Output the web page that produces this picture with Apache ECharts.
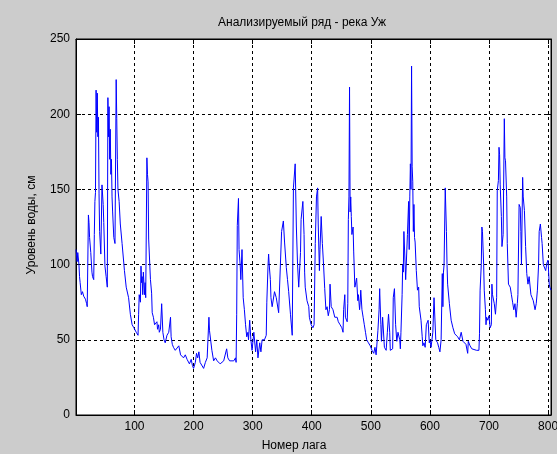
<!DOCTYPE html>
<html>
<head>
<meta charset="utf-8">
<script src="https://cdn.jsdelivr.net/npm/echarts@6/dist/echarts.min.js"></script>
<style>
html,body{margin:0;padding:0;background:#cccccc;}
#c{width:557px;height:454px;}
</style>
</head>
<body>
<div id="c"></div>
<script>
const titleText = 'Анализируемый ряд - река Уж';
const xName = 'Номер лага';
const yName = 'Уровень воды, см';
const yTicks = [0, 50, 100, 150, 200, 250];
const xTicks = [100, 200, 300, 400, 500, 600, 700, 800];

const lags = [
1,3,4,6,7,8,10,12,14,17,19,20,22,23,24,26,28,29,31,32,33,34,35,36,37,38,39,40,41,43,45,47,48,50,52,54,55,56,57,58,59,60,61,62,63,65,67,69,70,71,72,74,76,79,83,86,90,93,96,99,103,106,107,108,110,111,112,113,114,115,117,118,119,121,122,123,124,126,127,129,130,132,134,136,138,139,141,142,144,146,148,150,152,155,158,161,162,164,166,169,172,175,178,183,186,189,193,
196,198,200,203,205,207,209,211,214,217,220,223,226,227,230,231,234,237,240,245,251,256,258,261,268,271,272,273,274,276,277,279,280,282,284,286,288,290,292,293,295,297,299,302,305,307,309,312,314,316,320,323,324,326,327,328,330,331,333,334,337,340,341,344,349,352,354,357,359,361,364,367,369,372,374,376,378,381,382,385,387,388,
389,392,395,396,399,402,404,406,408,410,411,413,414,416,418,420,422,424,426,428,430,431,433,436,439,443,445,448,451,453,454,456,457,460,461,462,463,464,465,466,467,468,470,471,473,474,476,478,479,481,482,483,485,487,489,491,493,496,499,502,505,507,509,510,512,514,515,517,518,520,523,526,528,530,532,533,535,537,538,540,542,544,546,547,549,550,551,553,554,555,556,559,560,562,564,565,566,567,568,569,570,571,572,573,574,575,577,579,581,582,585,587,
588,590,592,594,595,597,599,600,602,605,607,610,613,615,617,619,621,622,623,624,626,628,629,630,633,636,639,642,644,647,650,653,656,659,661,664,665,668,671,674,679,683,684,685,687,688,689,691,692,694,695,696,698,700,702,704,705,706,709,711,713,714,716,717,718,719,721,722,724,726,727,728,730,731,733,736,738,740,742,744,746,748,749,751,753,754,755,757,758,760,762,764,766,768,771,773,775,778,780,782,784,785,787,789,790,792,794,796,798,800,802,803,805
];
const levels = [
110,102,108,100,92,88,80,82,79,77,74,72,133,128,118,108,95,92,90,120,142,148,216,188,214,185,198,147,122,107,153,140,128,99,92,85,211,185,205,170,190,160,170,145,135,118,114,223,197,170,150,142,127,114,96,85,78,67,60,58,55,53,67,80,75,99,88,92,80,95,80,88,78,171,160,155,117,99,90,81,68,65,60,59,62,57,60,55,57,74,55,50,48,53,55,65,52,47,45,43,42,46,40,38,40,37,34,
37,33,31,35,41,38,42,35,36,31,35,38,65,56,55,43,36,38,36,34,36,44,38,36,36,38,35,67,126,144,110,99,90,110,78,70,60,52,55,50,63,50,43,55,42,50,38,48,42,50,50,53,75,99,107,100,90,78,72,73,82,78,79,68,122,129,115,98,90,82,67,53,151,167,125,100,85,108,130,142,120,95,
85,76,72,65,60,58,60,114,145,151,127,96,110,132,114,100,84,70,72,66,70,87,72,70,65,65,62,60,58,55,70,80,65,62,74,130,145,218,135,145,132,120,125,109,85,85,91,76,80,70,75,83,70,65,60,55,50,48,46,43,41,45,40,40,56,70,84,60,49,65,45,43,55,67,55,43,42,44,78,84,60,49,55,56,50,44,55,80,100,95,122,90,100,120,142,110,145,167,150,232,165,155,122,140,118,115,96,83,85,72,63,52,
46,48,45,60,60,63,48,50,45,55,78,50,48,45,42,50,94,72,95,100,151,122,100,87,74,63,58,54,53,52,50,55,49,48,47,41,49,46,44,43,43,43,54,83,100,125,122,100,83,70,60,65,63,66,58,60,87,80,74,67,78,149,156,178,173,153,132,112,120,197,171,169,145,114,87,85,80,75,70,74,65,74,80,140,138,122,100,158,145,136,112,94,87,92,80,78,76,70,74,83,100,122,127,118,114,100,100,96,101,103,87,85,83
];

const FONT = '"Liberation Sans", Arial, Helvetica, sans-serif';
const chart = echarts.init(document.getElementById('c'), null, {renderer: 'canvas'});
const axisCommonX = {
  type: 'value', min: 1, max: 805, splitNumber: 8,
  axisLine: {show: true, onZero: false, lineStyle: {color: '#000', width: 1}},
  axisTick: {show: true, inside: true, length: 5, lineStyle: {color: '#000'}}
};
const axisCommonY = {
  type: 'value', min: yTicks[0], max: yTicks[yTicks.length - 1], interval: 50,
  axisLine: {show: true, onZero: false, lineStyle: {color: '#000', width: 1}},
  axisTick: {show: true, inside: true, length: 5, lineStyle: {color: '#000'}}
};
chart.setOption({
  animation: false,
  backgroundColor: '#cccccc',
  title: {
    text: titleText, left: 213, top: 12,
    textStyle: {fontSize: 12, fontWeight: 'normal', fontFamily: FONT, color: '#000'}
  },
  grid: {
    left: 76, right: 6, top: 39, bottom: 39,
    show: true, backgroundColor: '#ffffff', borderColor: '#000', borderWidth: 1,
    containLabel: false, outerBoundsMode: 'none'
  },
  xAxis: [
    Object.assign({}, axisCommonX, {
      position: 'bottom',
      axisLabel: {
        margin: 6, fontSize: 12, fontFamily: FONT, color: '#000',
        showMinLabel: false, showMaxLabel: false,
        formatter: v => (xTicks.indexOf(v) >= 0 ? String(v) : '')
      },
      splitLine: {show: true, lineStyle: {color: '#000', type: [3, 3], width: 1}}
    }),
    Object.assign({}, axisCommonX, {
      position: 'top',
      axisLabel: {show: false},
      splitLine: {show: false}
    })
  ],
  yAxis: [
    Object.assign({}, axisCommonY, {
      position: 'left',
      axisLabel: {margin: 6, fontSize: 12, fontFamily: FONT, color: '#000'},
      splitLine: {show: true, lineStyle: {color: '#000', type: [3, 3], width: 1}}
    }),
    Object.assign({}, axisCommonY, {
      position: 'right',
      axisLabel: {show: false},
      splitLine: {show: false}
    })
  ],
  graphic: [
    {type: 'text', x: 294, y: 446, z: 100,
     style: {text: xName, font: '12px ' + FONT, fill: '#000', align: 'center', verticalAlign: 'middle'}},
    {type: 'text', x: 32, y: 225, rotation: Math.PI / 2, z: 100,
     style: {text: yName, font: '12px ' + FONT, fill: '#000', align: 'center', verticalAlign: 'middle'}}
  ],
  series: [{
    type: 'line',
    xAxisIndex: 0, yAxisIndex: 0,
    data: lags.map((x, i) => [x, levels[i]]),
    showSymbol: false, symbol: 'none',
    lineStyle: {color: '#0000ff', width: 1},
    itemStyle: {color: '#0000ff'}
  }]
});
</script>
</body>
</html>
